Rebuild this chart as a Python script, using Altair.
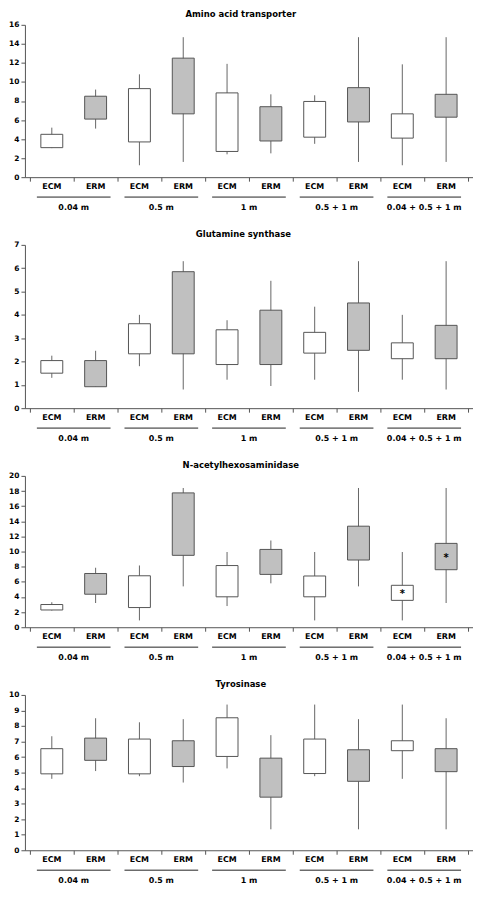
import altair as alt
import pandas as pd

groups = ["0.04 m", "0.5 m", "1 m", "0.5 + 1 m", "0.04 + 0.5 + 1 m"]
types = ["ECM", "ERM"]

titles = ["Amino acid transporter", "Glutamine synthase", "N-acetylhexosaminidase", "Tyrosinase"]
ymax = [16, 7, 20, 10]
ystep = [2, 1, 2, 1]

# order: 0.04 ECM, 0.04 ERM, 0.5 ECM, 0.5 ERM, 1 ECM, 1 ERM, 0.5+1 ECM, 0.5+1 ERM, all ECM, all ERM
aat_min = [3.05, 5.1, 1.25, 1.6, 2.4, 2.5, 3.5, 1.6, 1.25, 1.6]
aat_q1 = [3.1, 6.1, 3.7, 6.65, 2.7, 3.8, 4.2, 5.8, 4.1, 6.3]
aat_q3 = [4.5, 8.5, 9.3, 12.5, 8.85, 7.4, 7.95, 9.4, 6.65, 8.7]
aat_max = [5.2, 9.2, 10.8, 14.7, 11.9, 8.7, 8.6, 14.7, 11.85, 14.7]

gs_min = [1.3, 0.92, 1.8, 0.8, 1.22, 0.95, 1.22, 0.7, 1.22, 0.8]
gs_q1 = [1.5, 0.92, 2.33, 2.33, 1.87, 1.87, 2.36, 2.48, 2.12, 2.12]
gs_q3 = [2.04, 2.04, 3.62, 5.85, 3.36, 4.2, 3.25, 4.51, 2.8, 3.55]
gs_max = [2.25, 2.46, 4.0, 6.3, 3.77, 5.46, 4.35, 6.3, 4.0, 6.3]

nag_min = [2.2, 3.2, 0.9, 5.4, 2.8, 5.8, 0.9, 5.4, 0.9, 3.2]
nag_q1 = [2.28, 4.36, 2.6, 9.5, 4.02, 6.98, 4.02, 8.88, 3.55, 7.6]
nag_q3 = [3.0, 7.1, 6.8, 17.75, 8.15, 10.28, 6.77, 13.35, 5.54, 11.08]
nag_max = [3.3, 7.86, 8.16, 18.4, 9.94, 11.46, 9.94, 18.4, 9.94, 18.4]
nag_star_idx = [8, 9]
nag_star_val = [4.45, 9.2]

tyr_min = [4.6, 5.1, 4.77, 4.36, 5.27, 1.35, 4.77, 1.35, 4.6, 1.35]
tyr_q1 = [4.92, 5.79, 4.92, 5.39, 6.04, 3.42, 4.94, 4.44, 6.41, 5.06]
tyr_q3 = [6.54, 7.22, 7.16, 7.05, 8.53, 5.93, 7.16, 6.47, 7.05, 6.54]
tyr_max = [7.34, 8.5, 8.24, 8.44, 9.38, 7.41, 9.38, 8.44, 9.38, 8.5]

FONT = "DejaVu Sans"
W = 450


def panel(title, lo, q1, q3, hi, ym, step, H, star_idx=None, star_val=None):
    df = pd.DataFrame({
        "pos": [i + 0.5 for i in range(10)],
        "type": types * 5,
        "group": [g for g in groups for _ in types],
        "lo": lo, "q1": q1, "q3": q3, "hi": hi,
    })
    gdf = pd.DataFrame({
        "group": groups,
        "start": [2 * i for i in range(5)],
        "end": [2 * i + 2 for i in range(5)],
        "mid": [2 * i + 1 for i in range(5)],
    })
    xs = alt.Scale(domain=[0, 10], nice=False, zero=False)
    ys = alt.Scale(domain=[0, ym], nice=False)
    xaxis = alt.Axis(values=list(range(11)), labels=False, title=None, grid=False,
                     tickSize=4, domainColor="#555", tickColor="#555")
    yaxis = alt.Axis(values=list(range(0, ym + 1, step)), title=None, grid=False,
                     tickSize=4, domainColor="#555", tickColor="#555", labelPadding=2)

    whisk = alt.Chart(df).mark_rule(color="#666", strokeWidth=1).encode(
        x=alt.X("pos:Q", scale=xs, axis=xaxis),
        y=alt.Y("lo:Q", scale=ys, axis=yaxis),
        y2="hi:Q",
    )
    box = alt.Chart(df).mark_bar(size=22, stroke="#555", strokeWidth=1).encode(
        x=alt.X("pos:Q", scale=xs, axis=xaxis),
        y=alt.Y("q1:Q", scale=ys, axis=yaxis),
        y2="q3:Q",
        fill=alt.Fill("type:N", scale=alt.Scale(domain=types, range=["#ffffff", "#c0c0c0"]), legend=None),
    )
    lab = alt.Chart(df).mark_text(font=FONT, fontSize=8, fontWeight="bold", baseline="middle", color="black").encode(
        x=alt.X("pos:Q", scale=xs, axis=xaxis),
        y=alt.value(H + 10),
        text="type:N",
    )
    line = alt.Chart(gdf).mark_rule(color="#222", strokeWidth=1, xOffset=7, x2Offset=-7).encode(
        x=alt.X("start:Q", scale=xs, axis=xaxis),
        x2="end:Q",
        y=alt.value(H + 20),
    )
    glab = alt.Chart(gdf).mark_text(font=FONT, fontSize=8, fontWeight="bold", baseline="middle", color="black").encode(
        x=alt.X("mid:Q", scale=xs, axis=xaxis),
        y=alt.value(H + 31),
        text="group:N",
    )
    layers = [whisk, box, lab, line, glab]
    if star_idx:
        sdf = pd.DataFrame({"pos": [i + 0.5 for i in star_idx], "v": star_val, "s": ["*"] * len(star_idx)})
        stars = alt.Chart(sdf).mark_text(font=FONT, fontSize=10, fontWeight="bold", baseline="middle", color="black").encode(
            x=alt.X("pos:Q", scale=xs, axis=xaxis),
            y=alt.Y("v:Q", scale=ys, axis=yaxis),
            text="s:N",
        )
        layers.append(stars)
    return alt.layer(*layers).properties(
        width=W, height=H,
        title=alt.TitleParams(title, font=FONT, fontSize=8.5, fontWeight="bold", color="black",
                              anchor="middle", frame="bounds", offset=2),
    )


p1 = panel(titles[0], aat_min, aat_q1, aat_q3, aat_max, ymax[0], ystep[0], 153)
p2 = panel(titles[1], gs_min, gs_q1, gs_q3, gs_max, ymax[1], ystep[1], 164)
p3 = panel(titles[2], nag_min, nag_q1, nag_q3, nag_max, ymax[2], ystep[2], 152, nag_star_idx, nag_star_val)
p4 = panel(titles[3], tyr_min, tyr_q1, tyr_q3, tyr_max, ymax[3], ystep[3], 156)

chart = alt.vconcat(p1, p2, p3, p4, spacing=18).properties(
    padding={"left": 0, "top": 0, "right": 0, "bottom": 0}
).configure(font=FONT).configure_view(stroke=None).configure_axis(
    labelFont=FONT, labelFontSize=7.5, labelFontWeight="bold", labelColor="black"
)

chart.save("out.html", embed_options={"renderer": "svg", "actions": False})
